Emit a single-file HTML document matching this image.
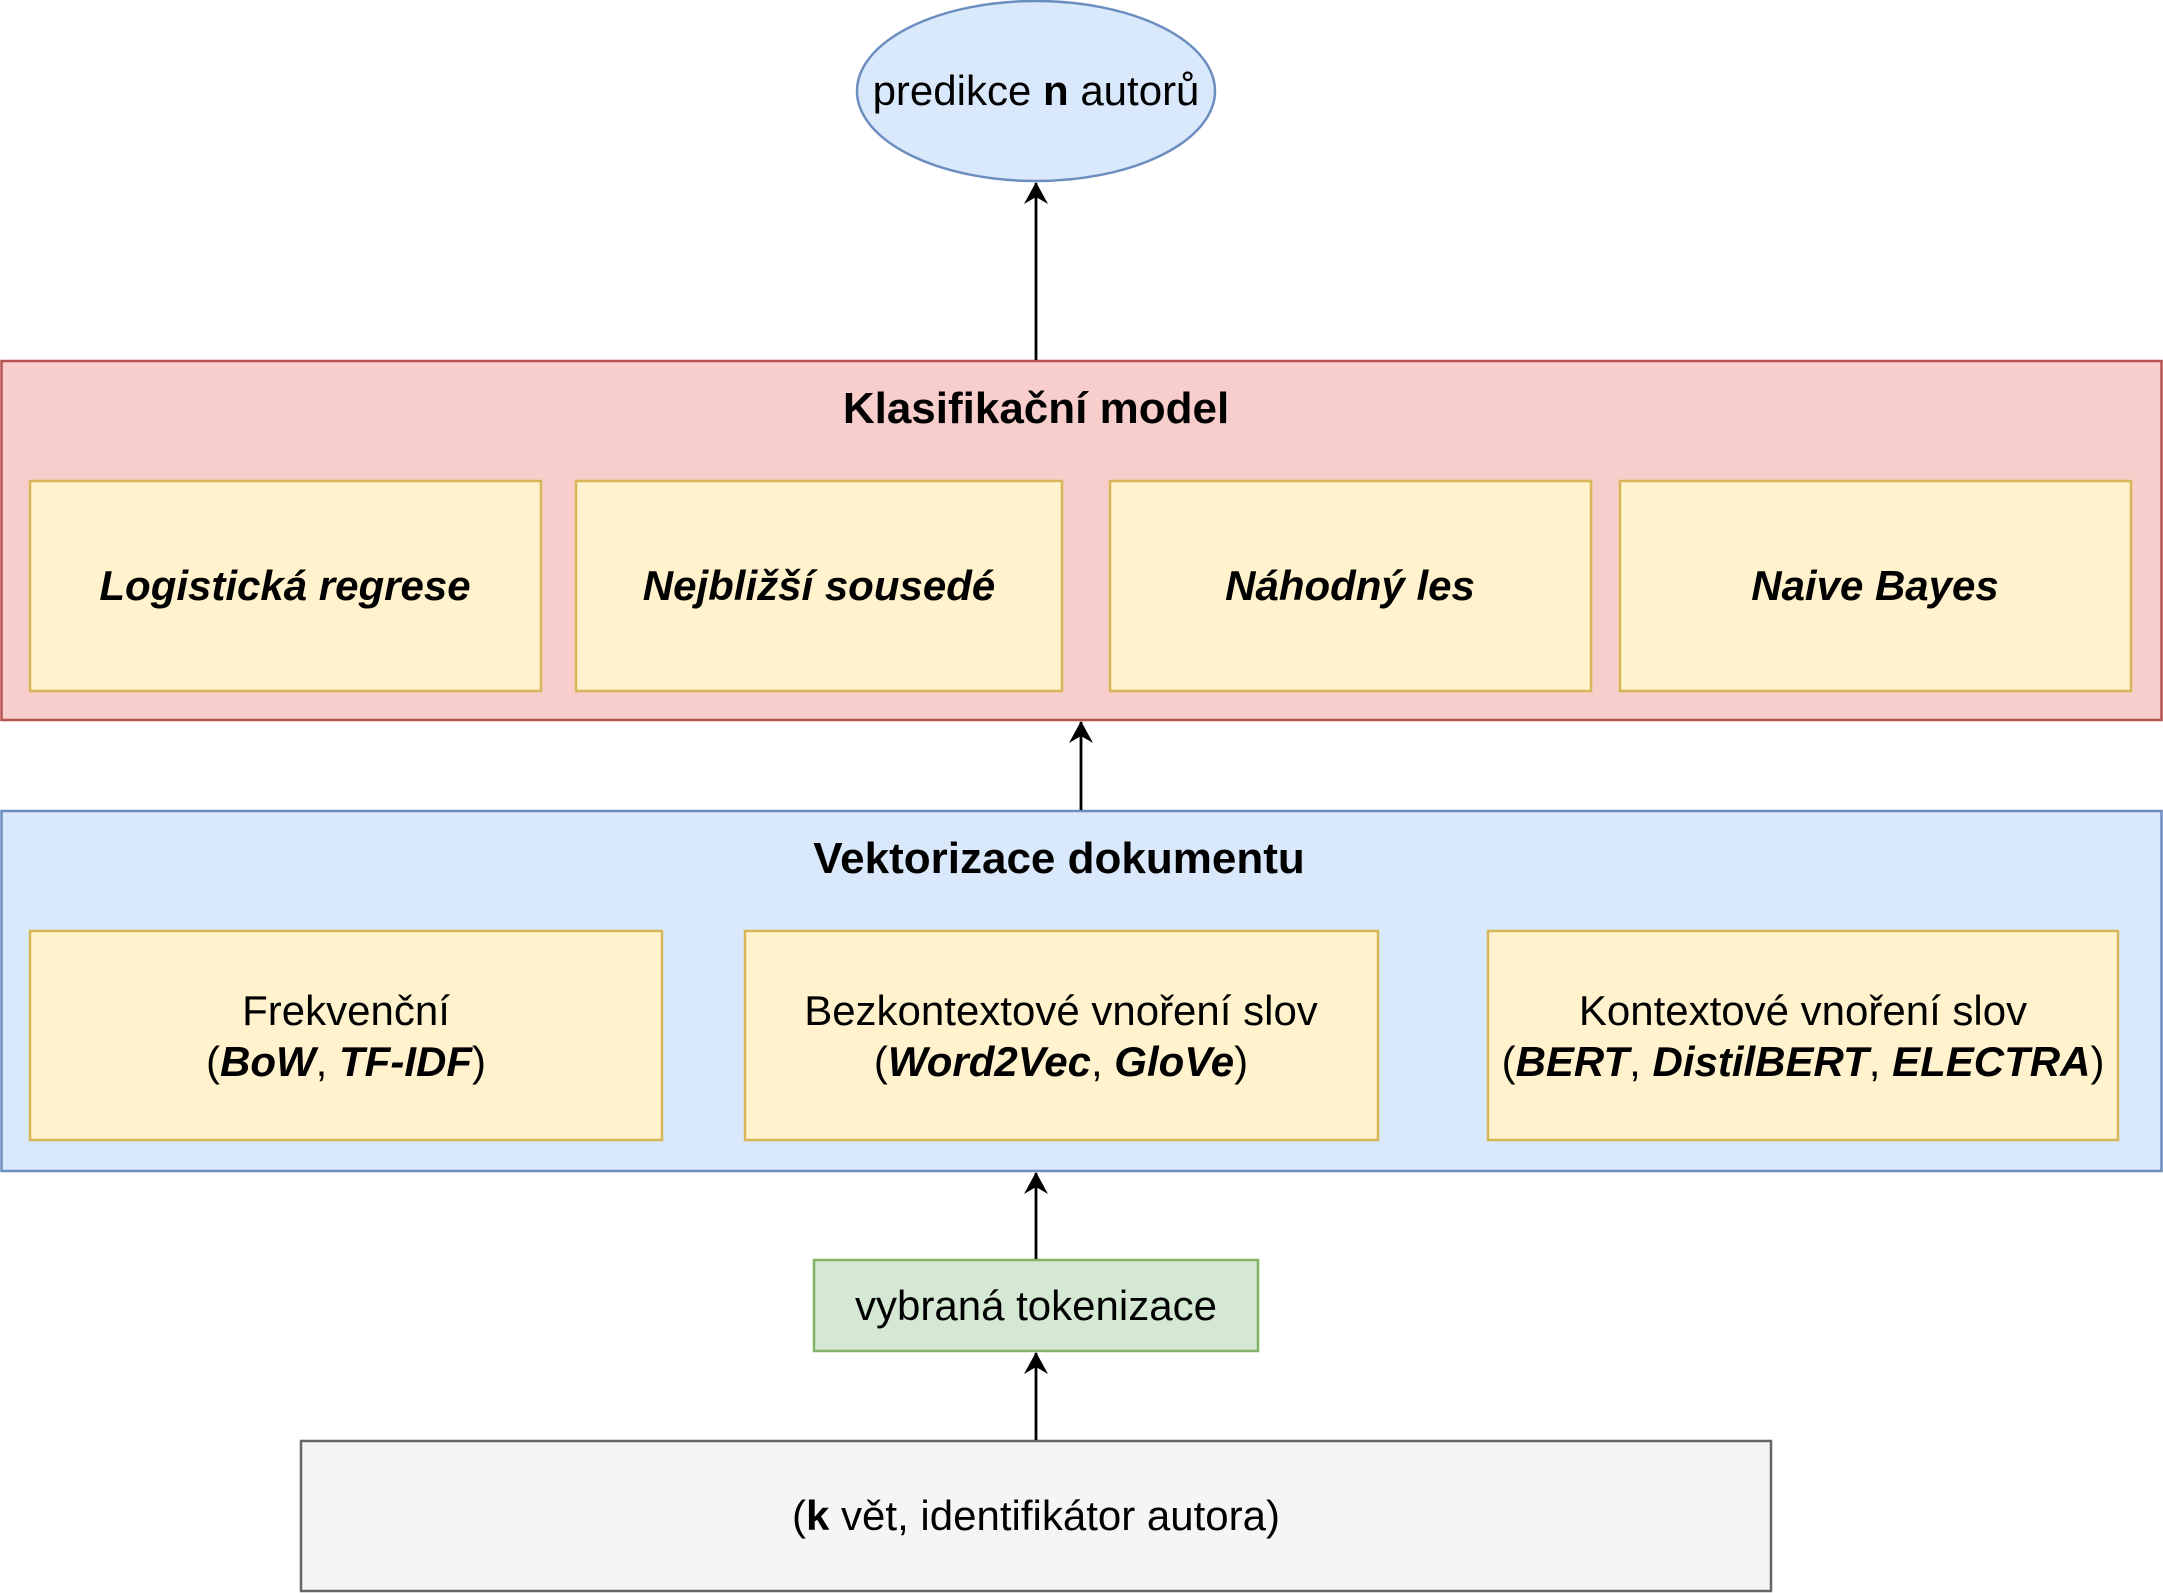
<!DOCTYPE html>
<html><head><meta charset="utf-8"><style>
html,body{margin:0;padding:0;background:#fff}
svg{display:block}
text{font-family:"Liberation Sans",sans-serif;fill:#000}
</style></head><body>
<svg width="2163" height="1593" viewBox="0 0 2163 1593" xmlns="http://www.w3.org/2000/svg">
<defs><marker id="a" markerWidth="22" markerHeight="26" refX="21" refY="13" orient="auto" markerUnits="userSpaceOnUse"><path d="M0,1 L22,13 L0,25 L7,13 Z" fill="#000"/></marker></defs>
<g stroke-width="2.5">
<ellipse cx="1036" cy="91" rx="179" ry="90" fill="#dae8fc" stroke="#6c8ebf"/>
<rect x="1.5" y="361" width="2160" height="359" fill="#f8cecc" stroke="#b85450"/>
<rect x="30" y="481" width="511" height="210" fill="#fff2cc" stroke="#d6b656"/>
<rect x="576" y="481" width="486" height="210" fill="#fff2cc" stroke="#d6b656"/>
<rect x="1110" y="481" width="481" height="210" fill="#fff2cc" stroke="#d6b656"/>
<rect x="1620" y="481" width="511" height="210" fill="#fff2cc" stroke="#d6b656"/>
<rect x="1.5" y="811" width="2160" height="360" fill="#dae8fc" stroke="#6c8ebf"/>
<rect x="30" y="931" width="632" height="209" fill="#fff2cc" stroke="#d6b656"/>
<rect x="745" y="931" width="633" height="209" fill="#fff2cc" stroke="#d6b656"/>
<rect x="1488" y="931" width="630" height="209" fill="#fff2cc" stroke="#d6b656"/>
<rect x="814" y="1260" width="444" height="91" fill="#d5e8d4" stroke="#82b366"/>
<rect x="301" y="1441" width="1470" height="150" fill="#f5f5f5" stroke="#666666"/>
</g>
<g stroke="#000" stroke-width="2.8" fill="none">
<line x1="1036" y1="360" x2="1036" y2="183" marker-end="url(#a)"/>
<line x1="1081" y1="810" x2="1081" y2="722" marker-end="url(#a)"/>
<line x1="1036" y1="1259" x2="1036" y2="1173" marker-end="url(#a)"/>
<line x1="1036" y1="1440" x2="1036" y2="1353" marker-end="url(#a)"/>
</g>
<g font-size="42" text-anchor="middle">
<text x="1036" y="105">predikce <tspan font-weight="bold">n</tspan> autorů</text>
<text x="1036" y="423" font-weight="bold" font-size="44">Klasifikační model</text>
<g font-weight="bold" font-style="italic" font-size="42">
<text x="285" y="600">Logistická regrese</text>
<text x="819" y="600">Nejbližší sousedé</text>
<text x="1350" y="600">Náhodný les</text>
<text x="1875" y="600">Naive Bayes</text>
</g>
<text x="1059" y="873" font-weight="bold" font-size="44">Vektorizace dokumentu</text>
<text x="346" y="1025">Frekvenční</text>
<text x="346" y="1076">(<tspan font-weight="bold" font-style="italic">BoW</tspan>, <tspan font-weight="bold" font-style="italic">TF-IDF</tspan>)</text>
<text x="1061" y="1025">Bezkontextové vnoření slov</text>
<text x="1061" y="1076">(<tspan font-weight="bold" font-style="italic">Word2Vec</tspan>, <tspan font-weight="bold" font-style="italic">GloVe</tspan>)</text>
<text x="1803" y="1025">Kontextové vnoření slov</text>
<text x="1803" y="1076">(<tspan font-weight="bold" font-style="italic">BERT</tspan>, <tspan font-weight="bold" font-style="italic">DistilBERT</tspan>, <tspan font-weight="bold" font-style="italic">ELECTRA</tspan>)</text>
<text x="1036" y="1320">vybraná tokenizace</text>
<text x="1036" y="1530" fill="#333">(<tspan font-weight="bold">k</tspan> vět, identifikátor autora)</text>
</g>
</svg>
</body></html>
